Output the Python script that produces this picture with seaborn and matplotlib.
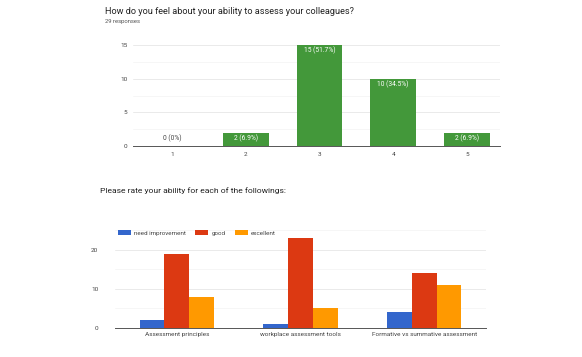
import matplotlib
matplotlib.use("Agg")
import matplotlib.pyplot as plt
import seaborn as sns
import pandas as pd
from matplotlib.ticker import MultipleLocator

# --- data ---
ratings = ["1", "2", "3", "4", "5"]
rating_counts = [0, 2, 15, 10, 2]
rating_labels = ["0 (0%)", "2 (6.9%)", "15 (51.7%)", "10 (34.5%)", "2 (6.9%)"]

topics = ["Assessment principles", "workplace assessment tools", "Formative vs summative assessment"]
levels = ["need improvement", "good", "excellent"]
need_improvement = [2, 1, 4]
good = [19, 23, 14]
excellent = [8, 5, 11]

green = "#43983a"
palette = {"need improvement": "#3366cc", "good": "#dc3912", "excellent": "#ff9900"}
txt = "#444444"
grid_major = "#e6e6e6"
grid_minor = "#f3f3f3"

sns.set_theme(style="white")
plt.rcParams["font.family"] = ["Roboto", "DejaVu Sans"]

fig = plt.figure(figsize=(5.82, 3.57), dpi=100)
fig.patch.set_facecolor("white")

# ==========================================
# top chart
# ==========================================
fig.text(105 / 582, 1 - 12 / 357, "How do you feel about your ability to assess your colleagues?",
         fontsize=6.6, color="#222222", va="center")
fig.text(105 / 582, 1 - 22 / 357, "29 responses", fontsize=4.2, color="#555555", va="center")

ax1 = fig.add_axes([133 / 582, 1 - 146 / 357, 367 / 582, 101 / 357])
sns.barplot(x=ratings, y=rating_counts, color=green, width=0.62, saturation=1,
            linewidth=0, ax=ax1)
ax1.set_ylim(0, 15)
ax1.set_xlim(-0.53, 4.45)
ax1.yaxis.set_major_locator(MultipleLocator(5))
ax1.yaxis.set_minor_locator(MultipleLocator(2.5))
ax1.grid(axis="y", which="major", color=grid_major, lw=0.6)
ax1.grid(axis="y", which="minor", color=grid_minor, lw=0.5)
ax1.set_axisbelow(True)
for s in ["top", "right", "left"]:
    ax1.spines[s].set_visible(False)
ax1.spines["bottom"].set_color("#555555")
ax1.spines["bottom"].set_linewidth(0.7)
ax1.tick_params(axis="both", length=0, labelsize=4.6, colors=txt, pad=4)
ax1.set_xlabel("")
ax1.set_ylabel("")

bars = ax1.containers[0]
for rect, val, lab in zip(bars, rating_counts, rating_labels):
    cx = rect.get_x() + rect.get_width() / 2
    if val == 0:
        ax1.annotate(lab, (cx, val), xytext=(0, 3), textcoords="offset points",
                     ha="center", va="bottom", fontsize=4.8, color=txt)
    else:
        ax1.annotate(lab, (cx, val), xytext=(0, -1.5), textcoords="offset points",
                     ha="center", va="top", fontsize=4.8, color="white")

# ==========================================
# bottom chart
# ==========================================
fig.text(100 / 582, 1 - 191 / 357, "Please rate your ability for each of the followings:",
         fontsize=6.1, color="#222222", va="center")

df = pd.DataFrame({
    "topic": topics * 3,
    "level": [l for l in levels for _ in topics],
    "count": need_improvement + good + excellent,
})

ax2 = fig.add_axes([115 / 582, 1 - 328 / 357, 371 / 582, 98 / 357])
sns.barplot(data=df, x="topic", y="count", hue="level", hue_order=levels, order=topics,
            palette=palette, width=0.6, saturation=1, gap=0, linewidth=0, ax=ax2)
ax2.set_ylim(0, 25)
ax2.set_xlim(-0.5, 2.5)
ax2.yaxis.set_major_locator(MultipleLocator(10))
ax2.yaxis.set_minor_locator(MultipleLocator(5))
ax2.grid(axis="y", which="major", color=grid_major, lw=0.6)
ax2.grid(axis="y", which="minor", color=grid_minor, lw=0.5)
ax2.set_axisbelow(True)
for s in ["top", "right", "left"]:
    ax2.spines[s].set_visible(False)
ax2.spines["bottom"].set_color("#555555")
ax2.spines["bottom"].set_linewidth(0.7)
ax2.tick_params(axis="both", length=0, labelsize=4.6, colors=txt, pad=3)
ax2.tick_params(axis="y", pad=12)
ax2.set_xlabel("")
ax2.set_ylabel("")
ax2.legend(loc="center left", bbox_to_anchor=(0.0, 0.97), ncol=3, frameon=False,
           fontsize=4.5, handlelength=2.1, handleheight=0.8, columnspacing=1.5,
           handletextpad=0.5, borderaxespad=0, labelcolor=txt)

fig.savefig("out.png", dpi=100, facecolor="white")
